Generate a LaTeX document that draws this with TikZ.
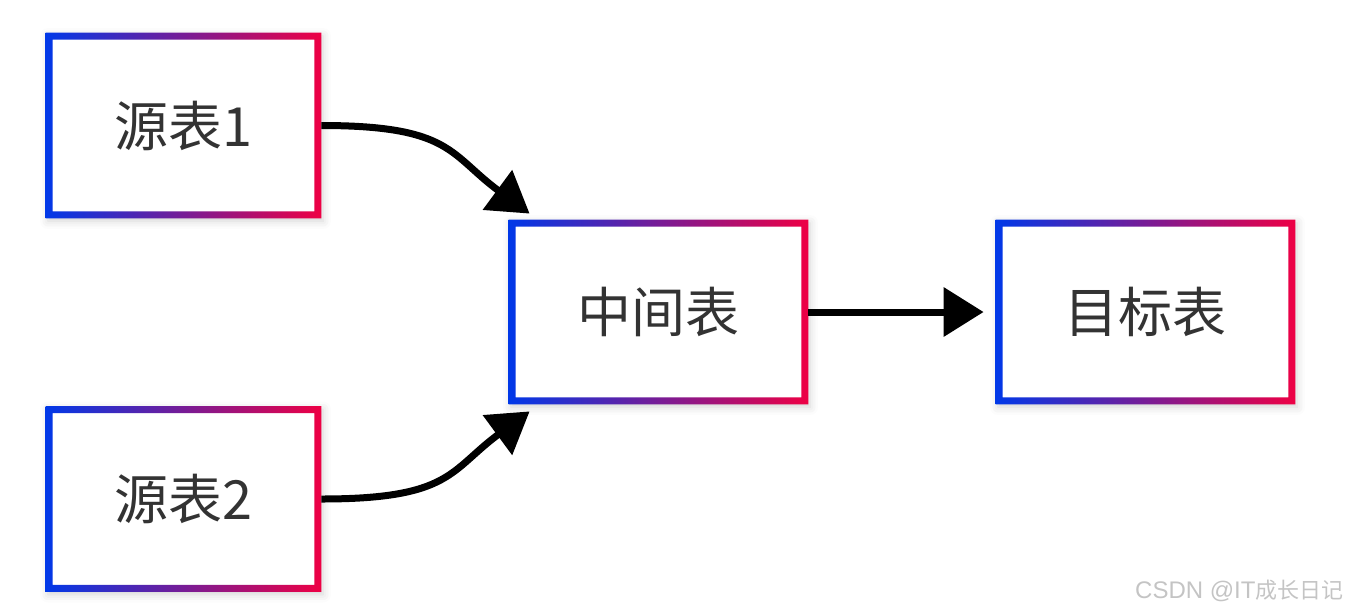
\documentclass[tikz,border=0pt]{standalone}
\usepackage{fontspec}
\setmainfont{Noto Sans CJK SC}
\newfontfamily\lsans{Liberation Sans}
\usetikzlibrary{arrows.meta,shadows.blur}
\definecolor{bl}{HTML}{0038E8}
\definecolor{rd}{HTML}{EE0044}
\definecolor{tx}{HTML}{333333}
\definecolor{wmc}{HTML}{C4C4C4}
\tikzset{
  box/.style={fill=white, draw=none, inner sep=0pt, text=tx,
    font=\fontsize{27pt}{32pt}\selectfont,
    blur shadow={shadow xshift=1pt, shadow yshift=-1.5pt, shadow blur radius=4pt, shadow opacity=18}},
  smallbox/.style={box, minimum width=137.5pt, minimum height=92.5pt},
  bigbox/.style={box, minimum width=149.5pt, minimum height=92pt},
  gbord/.style={left color=bl, right color=rd, even odd rule},
  conn/.style={line width=3.5pt, -{Triangle[length=20pt,width=24pt]}}
}
\newcommand\gborder[1]{%
  \shade[gbord] (#1.south west) rectangle (#1.north east)
    ([shift={(7,-7)}]#1.south west) rectangle ([shift={(-7,7)}]#1.north east);}
\begin{document}
\begin{tikzpicture}[x=0.5pt,y=-0.5pt]
\useasboundingbox (0,0) rectangle (1346,612);
\node[smallbox] (s1) at (183.5,125.5) {源表1};
\node[smallbox] (s2) at (183.5,499) {源表2};
\node[bigbox] (m) at (658.5,312) {中间表};
\node[bigbox] (t) at (1145.5,312) {目标表};
\gborder{s1}\gborder{s2}\gborder{m}\gborder{t}
\coordinate (a1) at ([shift={(21,-6)}]m.north west);
\coordinate (a2) at ([shift={(21,7)}]m.south west);
\coordinate (a3) at ([shift={(-12,0)}]t.west);
\draw[conn] (s1.east) .. controls +(130,0) and +(-80,-59) .. (a1);
\draw[conn] (s2.east) .. controls +(130,0) and +(-80,59) .. (a2);
\draw[conn] (m.east) -- (a3);
\node[anchor=base east, text=wmc, inner sep=0pt] (wm) at (1344,598)
  {{\lsans\fontsize{12pt}{14pt}\selectfont CSDN @IT}{\fontsize{11pt}{13pt}\selectfont 成长日记}};
\end{tikzpicture}
\end{document}
